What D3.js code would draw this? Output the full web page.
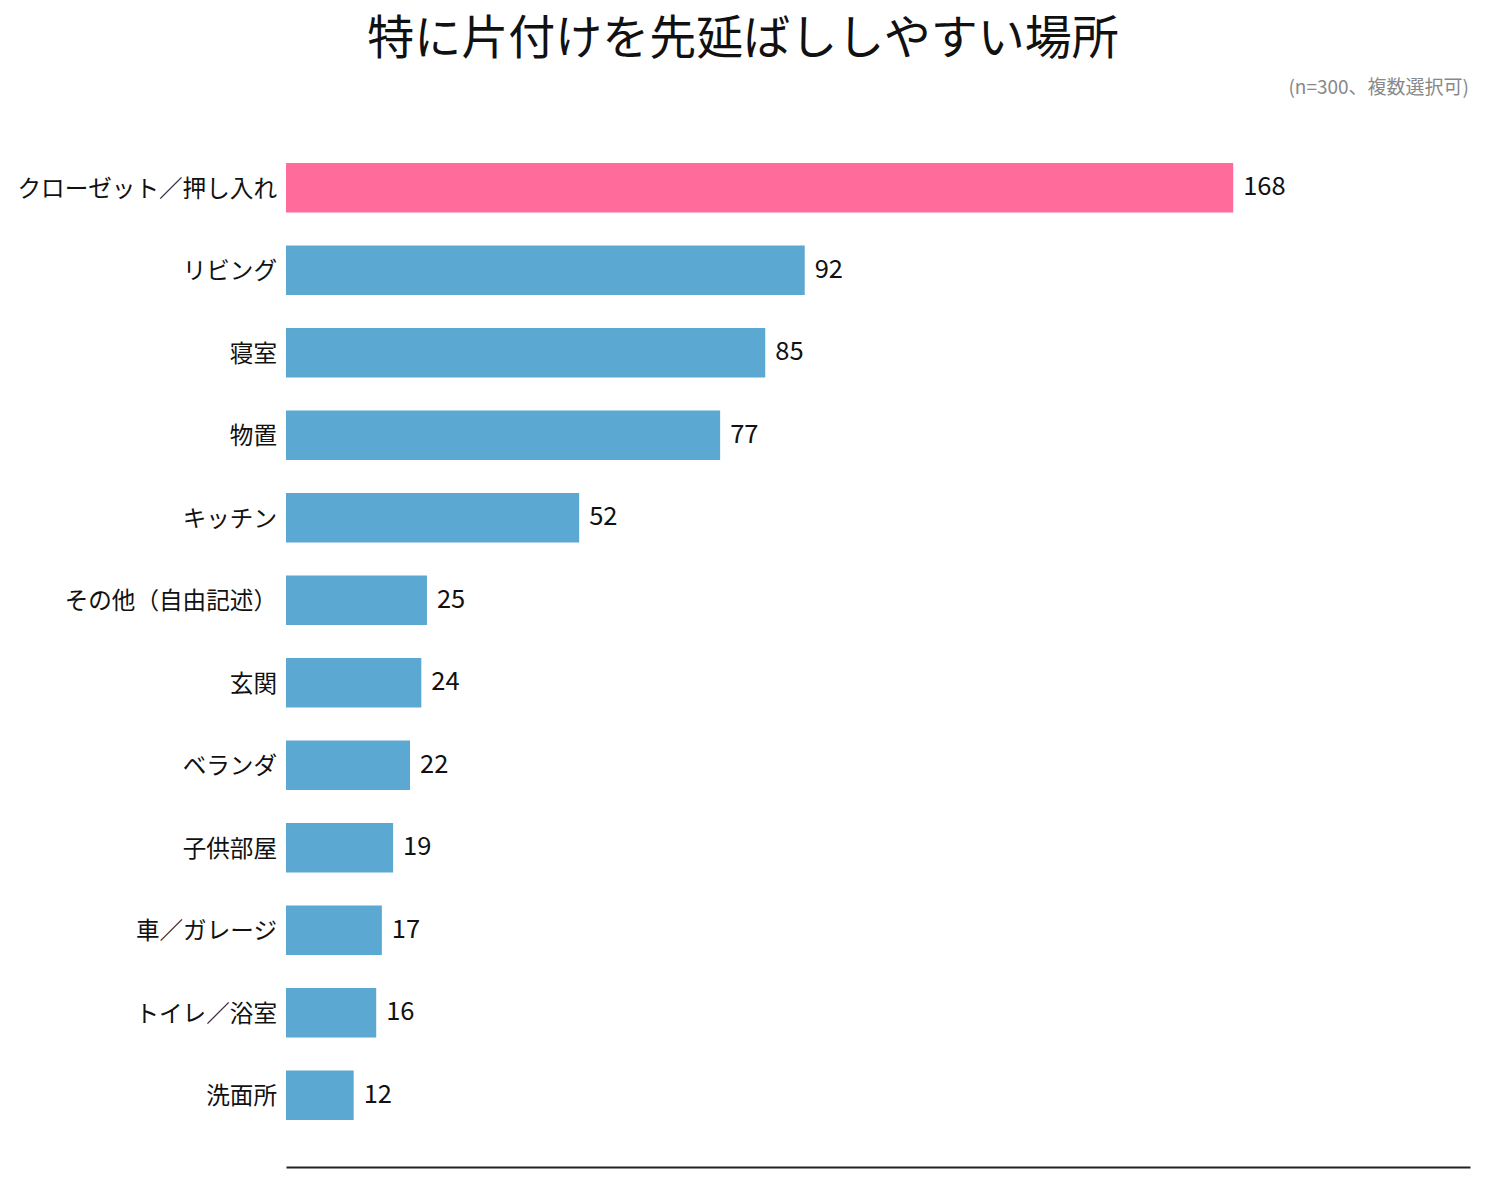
<!DOCTYPE html>
<html>
<head>
<meta charset="utf-8">
<script src="https://cdn.jsdelivr.net/npm/d3@7"></script>
<style>
  body { margin: 0; background: #fff; }
  text { font-family: "Noto Sans CJK JP", "Noto Sans", sans-serif; }
</style>
</head>
<body>
<script>
var places = ["クローゼット／押し入れ", "リビング", "寝室", "物置", "キッチン", "その他（自由記述）",
              "玄関", "ベランダ", "子供部屋", "車／ガレージ", "トイレ／浴室", "洗面所"];
var counts = [168, 92, 85, 77, 52, 25, 24, 22, 19, 17, 16, 12];
var highlight = "クローゼット／押し入れ";

var width = 1485, height = 1183;
var svg = d3.select("body").append("svg")
    .attr("width", width)
    .attr("height", height);

var x = d3.scaleLinear().domain([0, 210]).range([286, 1470]);
var y = d3.scaleBand().domain(places).range([130, 1153]).padding(0.4);

// title + note
svg.append("text")
    .attr("x", 743).attr("y", 54)
    .attr("text-anchor", "middle")
    .attr("font-size", 47)
    .attr("fill", "#111")
    .text("特に片付けを先延ばししやすい場所");

svg.append("text")
    .attr("x", 1469).attr("y", 94)
    .attr("text-anchor", "end")
    .attr("font-size", 19)
    .attr("fill", "#888")
    .text("(n=300、複数選択可)");

var rows = svg.selectAll(".row")
  .data(places)
  .enter().append("g")
    .attr("class", "row");

rows.append("rect")
    .attr("x", x(0))
    .attr("y", function(d) { return y(d); })
    .attr("width", function(d, i) { return x(counts[i]) - x(0); })
    .attr("height", y.bandwidth())
    .attr("fill", function(d) { return d == highlight ? "#ff6b9a" : "#5ba8d3"; });

rows.append("text")
    .attr("x", 277)
    .attr("y", function(d) { return y(d) + y.bandwidth() / 2; })
    .attr("dy", "0.38em")
    .attr("text-anchor", "end")
    .attr("font-size", 23.6)
    .attr("fill", "#111")
    .text(function(d) { return d; });

rows.append("text")
    .attr("x", function(d, i) { return x(counts[i]) + 10; })
    .attr("y", function(d) { return y(d) + y.bandwidth() / 2; })
    .attr("dy", "0.3em")
    .attr("font-size", 25.5)
    .attr("fill", "#111")
    .text(function(d, i) { return counts[i]; });

// baseline
var axis = svg.append("g")
    .attr("transform", "translate(0,1167)")
    .call(d3.axisBottom(x).ticks(0).tickSize(0).tickFormat(""));
axis.select(".domain").attr("stroke", "#222").attr("stroke-width", 2);
</script>
</body>
</html>
